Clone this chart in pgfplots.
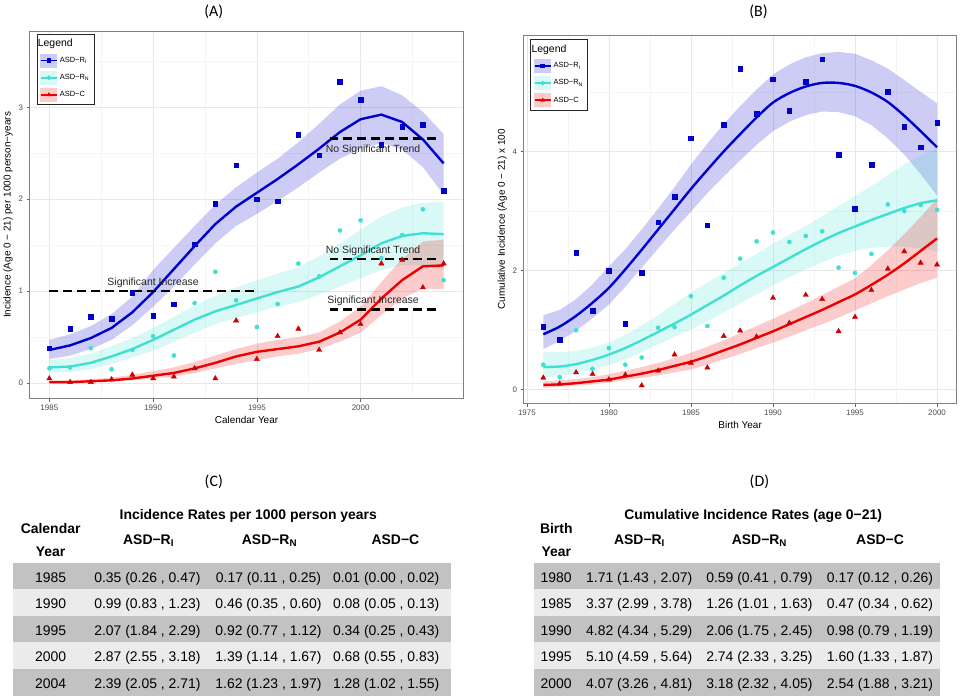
\documentclass[border=0pt]{standalone}
\usepackage{pgfplots}
\pgfplotsset{compat=1.18}
\usepgfplotslibrary{fillbetween}
\usepackage{pgfplotstable}
\usepackage{fontspec}
\setmainfont{Liberation Sans}
\newfontfamily\panelfont{Carlito}

\definecolor{cI}{HTML}{0000CD}
\definecolor{cN}{HTML}{40E0D0}
\definecolor{cC}{HTML}{EE0000}
\definecolor{mC}{HTML}{CC0000}
\definecolor{bandI}{HTML}{CCCCF5}
\definecolor{bandN}{HTML}{D9F9F6}
\definecolor{bandC}{HTML}{FCCCCC}
\definecolor{framegray}{HTML}{808080}
\definecolor{rowdark}{HTML}{C2C2C2}
\definecolor{rowlight}{HTML}{EBEBEB}

% ---------- Panel A data: x fit lo hi pt ----------
\pgfplotstableread{
x fit lo hi pt
1985 0.36 0.26 0.47 0.38
1986 0.41 0.30 0.53 0.59
1987 0.49 0.37 0.62 0.72
1988 0.60 0.47 0.75 0.70
1989 0.77 0.63 0.94 0.98
1990 0.99 0.83 1.23 0.73
1991 1.24 1.05 1.47 0.86
1992 1.49 1.29 1.71 1.51
1993 1.73 1.52 1.94 1.95
1994 1.92 1.71 2.13 2.37
1995 2.07 1.84 2.29 2.00
1996 2.22 1.98 2.44 1.98
1997 2.38 2.13 2.62 2.70
1998 2.55 2.29 2.82 2.48
1999 2.73 2.44 3.03 3.28
2000 2.87 2.55 3.18 3.08
2001 2.92 2.61 3.23 2.59
2002 2.84 2.54 3.13 2.79
2003 2.65 2.35 2.95 2.81
2004 2.39 2.05 2.71 2.09
}\AI
\pgfplotstableread{
x fit lo hi pt
1985 0.17 0.11 0.25 0.16
1986 0.18 0.12 0.27 0.17
1987 0.22 0.15 0.32 0.38
1988 0.29 0.21 0.40 0.15
1989 0.37 0.28 0.49 0.36
1990 0.47 0.35 0.60 0.51
1991 0.58 0.45 0.72 0.30
1992 0.69 0.55 0.84 0.87
1993 0.78 0.64 0.95 1.21
1994 0.85 0.71 1.04 0.90
1995 0.92 0.77 1.12 0.61
1996 0.99 0.83 1.19 0.86
1997 1.05 0.88 1.26 1.30
1998 1.15 0.96 1.38 1.16
1999 1.27 1.05 1.52 1.66
2000 1.39 1.14 1.67 1.77
2001 1.52 1.23 1.81 1.36
2002 1.60 1.28 1.91 1.61
2003 1.63 1.28 1.96 1.89
2004 1.62 1.23 1.97 1.12
}\AN
\pgfplotstableread{
x fit lo hi pt
1985 0.01 0.00 0.02 0.05
1986 0.01 0.00 0.03 0.01
1987 0.02 0.01 0.04 0.01
1988 0.03 0.02 0.06 0.04
1989 0.05 0.03 0.09 0.09
1990 0.08 0.05 0.13 0.05
1991 0.11 0.07 0.17 0.07
1992 0.16 0.11 0.23 0.16
1993 0.22 0.16 0.30 0.05
1994 0.29 0.21 0.37 0.68
1995 0.34 0.25 0.43 0.26
1996 0.37 0.29 0.47 0.51
1997 0.40 0.32 0.50 0.59
1998 0.45 0.37 0.55 0.36
1999 0.55 0.45 0.67 0.55
2000 0.69 0.55 0.83 0.64
2001 0.92 0.74 1.10 1.30
2002 1.12 0.92 1.35 1.34
2003 1.27 1.03 1.54 1.04
2004 1.28 1.02 1.56 1.30
}\AC
% ---------- Panel B data ----------
\pgfplotstableread{
x fit lo hi pt
1976 0.93 0.68 1.25 1.06
1977 1.06 0.82 1.34 0.84
1978 1.24 0.99 1.52 2.30
1979 1.46 1.20 1.77 1.33
1980 1.71 1.43 2.07 2.00
1981 2.02 1.73 2.36 1.11
1982 2.35 2.05 2.69 1.96
1983 2.69 2.37 3.04 2.81
1984 3.03 2.69 3.40 3.24
1985 3.37 2.99 3.78 4.22
1986 3.69 3.30 4.13 2.76
1987 4.00 3.58 4.46 4.45
1988 4.29 3.85 4.76 5.39
1989 4.57 4.11 5.04 4.63
1990 4.82 4.34 5.29 5.21
1991 4.98 4.50 5.46 4.68
1992 5.09 4.61 5.58 5.17
1993 5.15 4.67 5.65 5.55
1994 5.15 4.66 5.67 3.95
1995 5.10 4.59 5.64 3.04
1996 4.99 4.44 5.53 3.78
1997 4.83 4.22 5.39 5.00
1998 4.60 3.95 5.20 4.42
1999 4.34 3.62 5.00 4.07
2000 4.07 3.26 4.81 4.48
}\BI
\pgfplotstableread{
x fit lo hi pt
1976 0.38 0.20 0.64 0.42
1977 0.39 0.23 0.63 0.21
1978 0.43 0.27 0.65 1.00
1979 0.50 0.33 0.71 0.35
1980 0.59 0.41 0.79 0.70
1981 0.70 0.51 0.92 0.42
1982 0.83 0.63 1.08 0.54
1983 0.97 0.76 1.25 1.04
1984 1.11 0.89 1.44 1.05
1985 1.26 1.01 1.63 1.57
1986 1.42 1.15 1.80 1.07
1987 1.58 1.30 1.96 1.88
1988 1.75 1.45 2.12 2.20
1989 1.91 1.60 2.28 2.49
1990 2.06 1.75 2.45 2.64
1991 2.21 1.89 2.60 2.48
1992 2.36 2.02 2.75 2.58
1993 2.50 2.14 2.91 2.66
1994 2.63 2.25 3.08 2.05
1995 2.74 2.33 3.25 1.96
1996 2.85 2.38 3.42 2.28
1997 2.95 2.40 3.60 3.11
1998 3.05 2.40 3.78 3.00
1999 3.13 2.37 3.93 3.10
2000 3.18 2.32 4.05 3.02
}\BN
\pgfplotstableread{
x fit lo hi pt
1976 0.08 0.03 0.14 0.20
1977 0.09 0.05 0.16 0.10
1978 0.11 0.07 0.18 0.29
1979 0.14 0.09 0.21 0.26
1980 0.17 0.12 0.26 0.17
1981 0.22 0.16 0.32 0.25
1982 0.27 0.20 0.38 0.07
1983 0.33 0.24 0.45 0.32
1984 0.40 0.29 0.53 0.59
1985 0.47 0.34 0.62 0.45
1986 0.56 0.42 0.72 0.37
1987 0.66 0.51 0.83 0.90
1988 0.76 0.60 0.95 0.99
1989 0.87 0.70 1.07 0.89
1990 0.98 0.79 1.19 1.54
1991 1.10 0.89 1.32 1.12
1992 1.22 1.00 1.45 1.59
1993 1.34 1.10 1.59 1.52
1994 1.47 1.21 1.73 0.98
1995 1.60 1.33 1.87 1.22
1996 1.76 1.45 2.09 1.67
1997 1.93 1.57 2.34 2.03
1998 2.12 1.68 2.61 2.32
1999 2.33 1.79 2.90 2.13
2000 2.54 1.88 3.21 2.10
}\BC

\pgfplotsset{
  ggaxis/.style={
    scale only axis, anchor=south west,
    axis line style={framegray, line width=0.7bp},
    grid=both,
    major grid style={black!9, line width=0.7bp},
    minor grid style={black!4, line width=0.5bp},
    tick align=outside, tick pos=left,
    major tick length=3bp, minor tick length=0bp,
    tick style={black!60, line width=0.6bp},
    tick label style={font=\fontsize{8}{9}\selectfont, text=black!70},
    label style={font=\fontsize{10}{12}\selectfont},
    /pgf/number format/1000 sep={},
    /pgf/number format/assume math mode=true,
    legend cell align=left,
    legend style={anchor=north west, draw=black!85, line width=0.9bp, fill=white,
      font=\fontsize{7.5}{9}\selectfont, inner xsep=3bp, inner ysep=3bp, row sep=3.2bp},
  },
}
\newcommand{\ggkey}[3]{%
  \addlegendimage{legend image code/.code={%
    \fill[#1] (0bp,-6.5bp) rectangle (16bp,6.5bp);
    \draw[#2, line width=1.8bp] (0bp,0bp) -- (16bp,0bp);
    \draw[#2, only marks, mark=#3, mark size=1.8bp] plot coordinates {(8bp,0bp)};
  }}%
}
\newcommand{\gglegend}{%
  \addlegendimage{empty legend}
  \addlegendentry{\hspace{-22bp}\fontsize{10.5}{12}\selectfont Legend}
  \ggkey{bandI}{cI}{square*}
  \addlegendentry{ASD−R\textsubscript{I}\hspace{8bp}}
  \ggkey{bandN}{cN}{*}
  \addlegendentry{ASD−R\textsubscript{N}\hspace{8bp}}
  \ggkey{bandC}{cC}{triangle*}
  \addlegendentry{ASD−C\hspace{8bp}}
}
\newcommand{\ggband}[3]{% table, color, name
  \addplot[draw=none, name path=lo#3, forget plot] table[x=x,y=lo]{#1};
  \addplot[draw=none, name path=hi#3, forget plot] table[x=x,y=hi]{#1};
  \addplot[fill=#2, fill opacity=0.2, draw=none, forget plot] fill between[of=lo#3 and hi#3];
}
\newcommand{\ggpoints}[4]{%
  \addplot[only marks, mark=#3, mark size=#4, color=#2, forget plot] table[x=x,y=pt]{#1};
}
\tikzset{tbl/.style={font=\fontsize{14}{16}\selectfont, anchor=base, inner sep=0pt},
         tblb/.style={font=\fontsize{14}{16}\selectfont\bfseries, anchor=base, inner sep=0pt}}
\newcommand{\crow}[5]{%
  \node[tbl] at (50bp,#1bp) {#2};
  \node[tbl] at (146.8bp,#1bp) {#3};
  \node[tbl] at (268bp,#1bp) {#4};
  \node[tbl] at (385.8bp,#1bp) {#5};
}
\newcommand{\drow}[5]{%
  \node[tbl] at (555.8bp,#1bp) {#2};
  \node[tbl] at (639bp,#1bp) {#3};
  \node[tbl] at (759.3bp,#1bp) {#4};
  \node[tbl] at (880bp,#1bp) {#5};
}

\begin{document}
\begin{tikzpicture}
\path (0bp,0bp) rectangle (960bp,699bp);

% ================= Panel A =================
\begin{axis}[ggaxis, at={(29bp,300bp)}, width=434bp, height=368bp,
  xmin=1984.05, xmax=2004.95, ymin=-0.17, ymax=3.83,
  xtick={1985,1990,1995,2000}, ytick={0,1,2,3},
  minor xtick={1987.5,1992.5,1997.5,2002.5}, minor ytick={0.5,1.5,2.5,3.5},
  xlabel={Calendar Year}, ylabel={Incidence (Age 0 − 21) per 1000 person−years},
  xlabel style={at={(axis description cs:0.5,-0.059)}, anchor=center},
  ylabel style={at={(axis description cs:-0.05,0.5)}, anchor=center},
  legend style={at={(0.016,0.992)}},
]
\gglegend
\ggband{\AI}{cI}{AI}
\ggband{\AN}{cN}{AN}
\ggband{\AC}{cC}{AC}
\ggpoints{\AI}{cI}{square*}{2.3bp}
\ggpoints{\AN}{cN}{*}{2.1bp}
\ggpoints{\AC}{mC}{triangle*}{3bp}
\addplot[cI, line width=2.4bp, forget plot] table[x=x,y=fit]{\AI};
\addplot[cN, line width=2.4bp, forget plot] table[x=x,y=fit]{\AN};
\addplot[cC, line width=2.4bp, forget plot] table[x=x,y=fit]{\AC};
\addplot[black, line width=2.2bp, dash pattern=on 9bp off 5bp, forget plot] coordinates {(1985,1) (1995,1)};
\addplot[black, line width=2.2bp, dash pattern=on 9bp off 5bp, forget plot] coordinates {(1998.5,2.66) (2003.7,2.66)};
\addplot[black, line width=2.2bp, dash pattern=on 9bp off 5bp, forget plot] coordinates {(1998.5,1.35) (2003.7,1.35)};
\addplot[black, line width=2.2bp, dash pattern=on 9bp off 5bp, forget plot] coordinates {(1998.5,0.80) (2003.7,0.80)};
\node[font=\fontsize{10.5}{12}\selectfont, text=black!85] at (axis cs:1990,1.09) {Significant Increase};
\node[font=\fontsize{10.5}{12}\selectfont, text=black!85] at (axis cs:2000.6,2.54) {No Significant Trend};
\node[font=\fontsize{10.5}{12}\selectfont, text=black!85] at (axis cs:2000.6,1.44) {No Significant Trend};
\node[font=\fontsize{10.5}{12}\selectfont, text=black!85] at (axis cs:2000.6,0.89) {Significant Increase};
\end{axis}

% ================= Panel B =================
\begin{axis}[ggaxis, at={(523.3bp,295bp)}, width=433.4bp, height=369bp,
  xmin=1974.8, xmax=2001.2, ymin=-0.235, ymax=5.955,
  xtick={1975,1980,1985,1990,1995,2000}, ytick={0,2,4},
  minor xtick={1977.5,1982.5,1987.5,1992.5,1997.5}, minor ytick={1,3,5},
  xlabel={Birth Year}, ylabel={Cumulative Incidence (Age 0 − 21) x 100},
  xlabel style={at={(axis description cs:0.5,-0.058)}, anchor=center},
  ylabel style={at={(axis description cs:-0.049,0.5)}, anchor=center},
  legend style={at={(0.0155,0.988)}},
]
\gglegend
\ggband{\BI}{cI}{BI}
\ggband{\BN}{cN}{BN}
\ggband{\BC}{cC}{BC}
\ggpoints{\BI}{cI}{square*}{2.3bp}
\ggpoints{\BN}{cN}{*}{2.1bp}
\ggpoints{\BC}{mC}{triangle*}{3bp}
\addplot[cI, line width=2.4bp, smooth, forget plot] table[x=x,y=fit]{\BI};
\addplot[cN, line width=2.4bp, smooth, forget plot] table[x=x,y=fit]{\BN};
\addplot[cC, line width=2.4bp, smooth, forget plot] table[x=x,y=fit]{\BC};
\end{axis}

% ================= Panel labels =================
\node[font=\panelfont\fontsize{16}{18}\selectfont, anchor=base] at (213.3bp,682.1bp) {(A)};
\node[font=\panelfont\fontsize{16}{18}\selectfont, anchor=base] at (758.3bp,682.1bp) {(B)};
\node[font=\panelfont\fontsize{16}{18}\selectfont, anchor=base] at (213.3bp,212.1bp) {(C)};
\node[font=\panelfont\fontsize{16}{18}\selectfont, anchor=base] at (759.3bp,212.1bp) {(D)};

% ================= Table C =================
\fill[rowdark]  (12.7bp,109.7bp) rectangle (450.7bp,135.7bp);
\fill[rowlight] (12.7bp,83bp)    rectangle (450.7bp,109.7bp);
\fill[rowdark]  (12.7bp,56.3bp)  rectangle (450.7bp,83bp);
\fill[rowlight] (12.7bp,29.7bp)  rectangle (450.7bp,56.3bp);
\fill[rowdark]  (12.7bp,3bp)     rectangle (450.7bp,29.7bp);
\node[tblb] at (247.8bp,179bp) {Incidence Rates per 1000 person years};
\node[tblb] at (50bp,165bp) {Calendar};
\node[tblb] at (50bp,142.3bp) {Year};
\node[tblb] at (148bp,154bp) {ASD−R\textsubscript{I}};
\node[tblb] at (269bp,154bp) {ASD−R\textsubscript{N}};
\node[tblb] at (395bp,154bp) {ASD−C};
\crow{115.7}{1985}{0.35 (0.26 , 0.47)}{0.17 (0.11 , 0.25)}{0.01 (0.00 , 0.02)}
\crow{90}{1990}{0.99 (0.83 , 1.23)}{0.46 (0.35 , 0.60)}{0.08 (0.05 , 0.13)}
\crow{63.3}{1995}{2.07 (1.84 , 2.29)}{0.92 (0.77 , 1.12)}{0.34 (0.25 , 0.43)}
\crow{37}{2000}{2.87 (2.55 , 3.18)}{1.39 (1.14 , 1.67)}{0.68 (0.55 , 0.83)}
\crow{10}{2004}{2.39 (2.05 , 2.71)}{1.62 (1.23 , 1.97)}{1.28 (1.02 , 1.55)}

% ================= Table D =================
\fill[rowdark]  (533.3bp,109.7bp) rectangle (940bp,135.7bp);
\fill[rowlight] (533.3bp,83bp)    rectangle (940bp,109.7bp);
\fill[rowdark]  (533.3bp,56.3bp)  rectangle (940bp,83bp);
\fill[rowlight] (533.3bp,29.7bp)  rectangle (940bp,56.3bp);
\fill[rowdark]  (533.3bp,3bp)     rectangle (940bp,29.7bp);
\node[tblb] at (753bp,179bp) {Cumulative Incidence Rates (age 0−21)};
\node[tblb] at (556bp,165bp) {Birth};
\node[tblb] at (556bp,142.3bp) {Year};
\node[tblb] at (639.3bp,154bp) {ASD−R\textsubscript{I}};
\node[tblb] at (759.3bp,154bp) {ASD−R\textsubscript{N}};
\node[tblb] at (880bp,154bp) {ASD−C};
\drow{115.7}{1980}{1.71 (1.43 , 2.07)}{0.59 (0.41 , 0.79)}{0.17 (0.12 , 0.26)}
\drow{90}{1985}{3.37 (2.99 , 3.78)}{1.26 (1.01 , 1.63)}{0.47 (0.34 , 0.62)}
\drow{63.3}{1990}{4.82 (4.34 , 5.29)}{2.06 (1.75 , 2.45)}{0.98 (0.79 , 1.19)}
\drow{37}{1995}{5.10 (4.59 , 5.64)}{2.74 (2.33 , 3.25)}{1.60 (1.33 , 1.87)}
\drow{10}{2000}{4.07 (3.26 , 4.81)}{3.18 (2.32 , 4.05)}{2.54 (1.88 , 3.21)}
\end{tikzpicture}
\end{document}
